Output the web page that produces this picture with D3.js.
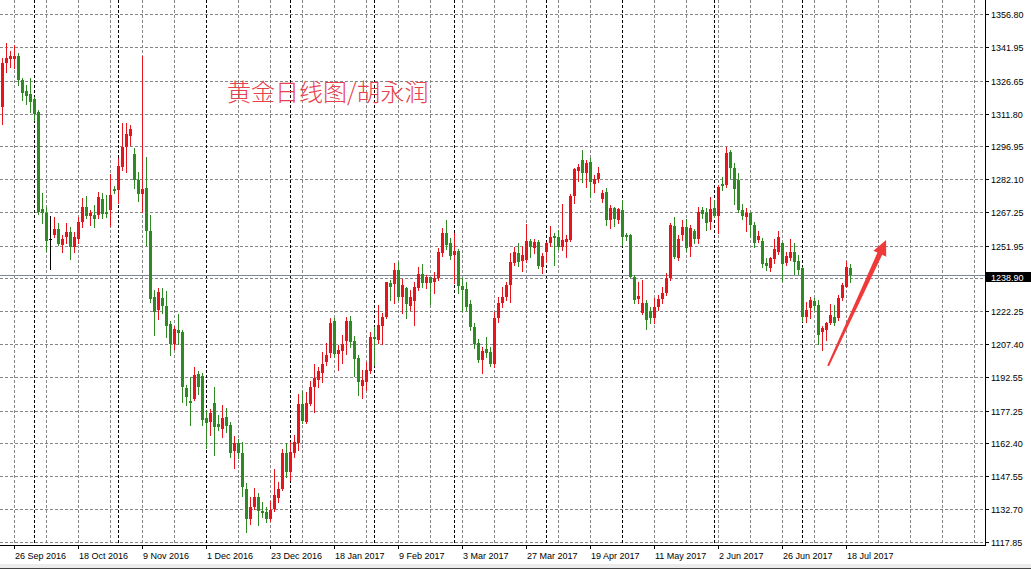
<!DOCTYPE html>
<html><head><meta charset="utf-8">
<script src="https://cdn.jsdelivr.net/npm/d3@7"></script>
<style>
html,body{margin:0;padding:0;background:#fff;overflow:hidden;}
svg{display:block;}
</style></head><body>
<svg id="chart" width="1031" height="569"></svg>
<script>
// ---------- data ----------
const startDate = "2016-09-21";
const holidays = ["2016-12-26", "2017-01-02", "2017-04-14"];
const opens = [1314.6,1334.6,1336.4,1336.4,1337.9,1327.0,1322.0,1320.5,1318.3,1312.7,1268.5,1266.6,1254.9,1256.9,1259.4,1252.3,1256.0,1258.3,1251.2,1254.9,1262.8,1269.4,1265.6,1265.9,1265.9,1273.0,1267.4,1268.1,1277.6,1277.2,1287.7,1296.8,1301.7,1293.5,1281.7,1275.4,1278.0,1258.8,1228.9,1222.8,1228.1,1224.7,1216.5,1207.4,1213.8,1213.0,1187.4,1181.8,1182.4,1193.9,1193.0,1173.8,1172.3,1180.6,1171.2,1168.8,1174.5,1170.8,1159.1,1162.7,1157.9,1141.6,1128.1,1133.5,1138.3,1131.9,1131.5,1128.1,1132.6,1137.6,1141.6,1158.2,1149.6,1157.9,1162.7,1180.3,1172.3,1180.3,1187.8,1191.1,1194.3,1199.4,1203.2,1218.0,1202.9,1204.4,1208.9,1218.0,1208.9,1201.0,1188.4,1190.4,1195.4,1210.5,1209.3,1215.6,1219.5,1235.2,1234.6,1241.0,1228.6,1232.7,1224.7,1227.1,1232.7,1239.2,1234.9,1237.7,1235.7,1237.2,1248.5,1257.6,1253.1,1247.8,1249.7,1233.7,1232.2,1225.6,1215.3,1208.0,1200.2,1205.0,1203.9,1198.4,1219.1,1225.9,1228.9,1234.2,1244.3,1248.5,1245.2,1245.5,1254.2,1250.8,1253.8,1242.5,1249.3,1253.3,1256.4,1256.0,1251.5,1253.8,1254.5,1274.5,1285.9,1290.8,1284.8,1290.0,1279.9,1282.0,1273.0,1276.4,1263.6,1268.9,1263.6,1268.1,1256.8,1256.8,1237.9,1227.7,1221.3,1226.2,1222.5,1219.1,1224.3,1227.7,1230.4,1237.2,1260.9,1246.3,1256.8,1260.3,1251.5,1258.8,1254.9,1268.1,1267.4,1262.8,1268.9,1265.4,1279.9,1279.5,1294.5,1287.0,1281.7,1268.1,1264.8,1266.6,1261.3,1254.5,1254.2,1244.3,1241.7,1245.8,1249.3,1253.3,1244.0,1246.3,1249.3,1245.2,1241.7,1219.8,1223.6,1226.9,1225.1,1213.0,1213.8,1217.1,1219.8,1219.1,1228.1,1233.4,1242.0];
const highs = [1336.8,1343.6,1340.3,1342.9,1339.4,1327.8,1324.7,1327.8,1319.4,1313.4,1275.7,1269.6,1265.4,1264.8,1262.1,1256.8,1262.1,1260.6,1258.3,1264.8,1273.4,1274.5,1268.1,1270.4,1276.4,1276.0,1274.9,1284.4,1279.0,1291.6,1307.7,1307.7,1306.6,1296.1,1285.5,1337.9,1292.0,1265.9,1231.9,1232.8,1232.7,1231.6,1218.0,1215.6,1221.0,1213.8,1188.9,1192.6,1197.2,1195.4,1194.2,1177.6,1177.9,1188.1,1175.3,1179.8,1178.3,1172.3,1165.8,1164.3,1163.2,1144.4,1138.3,1142.1,1139.8,1136.0,1133.8,1136.5,1150.7,1145.1,1159.8,1162.7,1163.2,1166.2,1184.8,1186.3,1185.8,1190.8,1198.4,1196.9,1204.0,1208.0,1219.1,1219.1,1207.0,1211.5,1219.8,1220.1,1211.1,1202.5,1195.7,1199.4,1213.0,1215.3,1225.1,1221.6,1235.7,1236.4,1244.3,1244.7,1236.8,1233.4,1231.9,1235.7,1242.5,1243.7,1238.7,1237.9,1240.2,1250.8,1259.8,1263.6,1255.3,1257.6,1250.3,1237.2,1235.5,1227.4,1216.8,1209.6,1206.2,1210.8,1206.2,1222.1,1228.9,1233.4,1235.7,1248.5,1251.5,1253.1,1251.8,1261.8,1254.9,1254.9,1254.5,1248.5,1253.8,1260.9,1257.6,1259.1,1270.9,1256.8,1275.4,1287.0,1289.0,1295.3,1290.8,1291.6,1284.0,1287.5,1277.2,1278.0,1270.4,1269.6,1268.9,1272.7,1257.6,1257.1,1238.7,1235.7,1236.4,1227.4,1224.3,1228.1,1229.6,1233.1,1239.5,1262.1,1264.8,1256.8,1263.6,1263.9,1261.3,1259.4,1269.6,1269.6,1268.9,1273.9,1272.7,1279.5,1283.2,1296.5,1295.3,1289.3,1284.8,1270.9,1268.9,1267.4,1262.8,1258.8,1255.3,1246.3,1247.0,1254.9,1258.8,1253.8,1249.3,1254.9,1253.1,1247.8,1242.5,1226.6,1228.6,1228.1,1227.4,1215.6,1217.5,1225.6,1225.1,1229.6,1234.9,1245.2,1243.7];
const lows = [1307.1,1330.8,1332.8,1332.3,1324.7,1318.0,1316.1,1312.7,1308.9,1266.3,1262.1,1249.7,1241.3,1255.8,1252.3,1249.3,1253.1,1245.8,1249.3,1253.1,1260.6,1264.4,1261.3,1260.6,1264.4,1264.4,1265.1,1260.9,1275.8,1271.2,1286.3,1285.5,1297.6,1278.0,1272.3,1267.4,1252.3,1226.5,1211.5,1218.8,1221.3,1210.8,1202.5,1205.0,1207.4,1181.3,1179.8,1170.8,1182.1,1184.8,1170.8,1160.2,1166.2,1157.2,1168.5,1165.5,1167.7,1156.1,1151.2,1155.7,1138.6,1122.4,1125.9,1132.6,1125.5,1129.0,1127.0,1127.4,1131.9,1136.0,1141.3,1147.3,1145.9,1156.1,1159.4,1171.8,1171.5,1179.8,1176.8,1188.1,1190.0,1197.9,1201.7,1201.7,1195.7,1198.7,1202.9,1206.2,1193.0,1184.3,1182.9,1186.6,1194.2,1197.9,1207.8,1207.4,1219.1,1227.4,1225.9,1227.4,1221.3,1219.1,1222.8,1216.1,1231.9,1233.1,1232.7,1225.6,1230.7,1236.4,1247.3,1250.3,1245.8,1235.0,1230.7,1222.5,1222.8,1213.8,1205.5,1199.4,1194.2,1201.7,1197.5,1197.2,1217.5,1224.0,1227.4,1226.6,1243.2,1242.8,1240.6,1244.7,1246.7,1248.8,1241.7,1239.5,1244.7,1251.8,1243.2,1250.3,1250.0,1246.7,1254.2,1271.4,1281.4,1280.9,1278.7,1273.9,1276.4,1280.9,1271.9,1261.3,1259.8,1260.9,1262.1,1252.3,1254.5,1237.7,1225.9,1225.9,1221.0,1214.1,1216.8,1216.8,1223.0,1225.9,1229.6,1236.4,1246.3,1245.5,1254.5,1249.7,1247.3,1253.1,1253.1,1264.4,1259.1,1259.4,1264.8,1257.9,1277.2,1278.7,1282.5,1270.9,1267.0,1263.9,1258.8,1256.0,1251.5,1253.8,1242.5,1241.0,1240.6,1244.0,1248.2,1236.1,1243.2,1245.5,1239.2,1239.2,1218.0,1217.5,1219.1,1222.8,1207.4,1204.7,1209.3,1216.5,1216.1,1218.3,1227.4,1233.1,1235.7];
const closes = [1334.6,1336.8,1337.9,1337.9,1327.0,1321.3,1319.9,1317.2,1311.6,1267.4,1266.6,1254.2,1254.9,1259.4,1252.7,1254.9,1258.3,1251.2,1256.0,1262.8,1269.4,1265.4,1266.9,1263.9,1274.2,1266.3,1266.3,1274.9,1276.7,1288.1,1296.8,1302.6,1304.7,1281.7,1275.4,1277.5,1258.8,1227.7,1222.1,1231.1,1224.7,1215.6,1207.4,1214.1,1212.3,1187.8,1183.6,1180.9,1193.4,1188.1,1173.0,1171.5,1176.1,1170.0,1170.0,1173.8,1170.3,1158.2,1162.5,1157.9,1142.8,1128.1,1133.5,1138.0,1131.9,1130.8,1128.1,1132.3,1139.1,1141.6,1158.2,1149.6,1158.7,1163.2,1180.3,1172.7,1180.9,1187.8,1191.9,1195.4,1198.4,1202.5,1216.8,1202.9,1204.7,1207.4,1218.0,1208.5,1200.5,1190.4,1191.1,1195.7,1210.8,1209.6,1216.1,1219.5,1235.7,1233.4,1241.0,1228.9,1234.2,1225.6,1228.6,1233.1,1239.2,1235.2,1237.7,1235.2,1237.2,1249.3,1257.6,1252.3,1247.3,1249.7,1233.7,1231.9,1224.3,1215.3,1207.4,1200.2,1204.4,1203.5,1198.4,1219.1,1226.2,1228.9,1234.2,1244.7,1249.3,1244.7,1247.8,1254.2,1251.2,1253.8,1242.8,1247.3,1253.1,1255.8,1255.3,1251.5,1254.5,1254.9,1274.5,1286.6,1287.7,1284.8,1289.6,1280.9,1282.0,1284.8,1275.7,1263.6,1268.9,1263.9,1268.5,1256.0,1255.8,1237.9,1227.4,1229.2,1226.2,1218.3,1219.1,1224.3,1227.7,1230.7,1237.2,1261.3,1247.0,1254.9,1260.3,1250.8,1259.8,1254.9,1267.4,1266.3,1262.4,1268.5,1265.4,1278.7,1279.0,1293.8,1287.0,1277.5,1268.1,1265.4,1266.9,1261.3,1253.3,1256.4,1243.7,1242.8,1246.3,1250.3,1256.0,1243.7,1247.3,1249.3,1244.7,1241.0,1219.8,1222.8,1227.4,1224.7,1211.5,1214.6,1217.1,1220.6,1216.8,1228.1,1234.2,1242.2,1238.9];
const priceTicks = [1356.80,1341.95,1326.65,1311.80,1296.95,1282.10,1267.25,1251.95,1237.10,1222.25,1207.40,1192.55,1177.25,1162.40,1147.55,1132.70,1117.85];
const dateTicks = ["2016-09-26","2016-10-18","2016-11-09","2016-12-01","2016-12-23","2017-01-18","2017-02-09","2017-03-03","2017-03-27","2017-04-19","2017-05-11","2017-06-02","2017-06-26","2017-07-18"];
const lastPrice = 1238.90;
const titleText = "黄金日线图/胡永润";
// annotation arrow, in data coordinates [bar index, price]
const arrowFrom = [206.4, 1197.5];
const arrowTo = [220.9, 1254.5];

// ---------- build dates ----------
const parse = d3.utcParse("%Y-%m-%d"), key = d3.utcFormat("%Y-%m-%d");
const fmtTick = d3.utcFormat("%-d %b %Y");
const days = [];
let dd = parse(startDate);
while (days.length < opens.length) {
  const wd = dd.getUTCDay(), k = key(dd);
  if (wd !== 0 && wd !== 6 && !holidays.includes(k)) days.push(k);
  dd = d3.utcDay.offset(dd, 1);
}
const bars = days.map((d, i) => ({date: d, i, o: opens[i], h: highs[i], l: lows[i], c: closes[i]}));

// ---------- layout ----------
const W = 1031, H = 569;
const plotRight = 985, plotBottom = 545;
const barStep = 4;
const x = d3.scaleLinear().domain([0, 1]).range([2.5, 2.5 + barStep]);
const y = d3.scaleLinear().domain([1117.85, 1356.80]).range([541.8, 14.2]);
const idx = d => days.indexOf(d);

const svg = d3.select("#chart");
svg.append("rect").attr("width", W).attr("height", H).attr("fill", "#fff");

const gridColor = "#868686";
const dash = "3,2";
const grid = svg.append("g").attr("shape-rendering", "crispEdges");

// horizontal grid
grid.selectAll("line.h").data(priceTicks).join("line")
  .attr("x1", 0).attr("x2", plotRight)
  .attr("y1", d => Math.round(y(d)) + 0.5).attr("y2", d => Math.round(y(d)) + 0.5)
  .attr("stroke", gridColor).attr("stroke-dasharray", dash);

// vertical grid every 8 bars from first date tick
const vIdx = [];
for (let i = idx(dateTicks[0]); x(i) < plotRight; i += 8) vIdx.push(i);
grid.selectAll("line.v").data(vIdx).join("line")
  .attr("x1", d => Math.floor(x(d)) + 0.5).attr("x2", d => Math.floor(x(d)) + 0.5)
  .attr("y1", 0).attr("y2", plotBottom)
  .attr("stroke", gridColor).attr("stroke-dasharray", dash);

// period separators (first trading day of each month)
const seps = bars.filter((b, i) => i > 0 && b.date.slice(0, 7) !== bars[i - 1].date.slice(0, 7));
grid.selectAll("line.s").data(seps).join("line")
  .attr("x1", d => Math.floor(x(d.i)) + 0.5).attr("x2", d => Math.floor(x(d.i)) + 0.5)
  .attr("y1", 0).attr("y2", plotBottom)
  .attr("stroke", "#000").attr("stroke-dasharray", dash);

// price line
svg.append("line").attr("shape-rendering", "crispEdges")
  .attr("x1", 0).attr("x2", plotRight)
  .attr("y1", Math.round(y(lastPrice)) + 0.5).attr("y2", Math.round(y(lastPrice)) + 0.5)
  .attr("stroke", "#7d8a96");

// candles
const upColor = "#e8141c", downColor = "#2f8a24";
const colorOf = b => b.c > b.o ? upColor : (b.c < b.o ? downColor : "#000");
const cg = svg.append("g").attr("shape-rendering", "crispEdges");
const cand = cg.selectAll("g").data(bars).join("g");
cand.append("line")
  .attr("x1", d => Math.floor(x(d.i)) + 0.5).attr("x2", d => Math.floor(x(d.i)) + 0.5)
  .attr("y1", d => Math.round(y(d.h))).attr("y2", d => Math.round(y(d.l)) + 1)
  .attr("stroke", colorOf);
cand.append("rect")
  .attr("x", d => Math.floor(x(d.i)) - 1)
  .attr("width", 3)
  .attr("y", d => Math.round(y(Math.max(d.o, d.c))))
  .attr("height", d => Math.max(1, Math.round(y(Math.min(d.o, d.c))) - Math.round(y(Math.max(d.o, d.c)))))
  .attr("fill", colorOf);

// axes frame
const ax = svg.append("g").attr("shape-rendering", "crispEdges");
ax.append("line").attr("x1", plotRight + 0.5).attr("x2", plotRight + 0.5).attr("y1", 0).attr("y2", plotBottom + 1).attr("stroke", "#000");
ax.append("line").attr("x1", 0).attr("x2", plotRight + 1).attr("y1", plotBottom + 0.5).attr("y2", plotBottom + 0.5).attr("stroke", "#000");

const fontAxis = "'Liberation Sans', Arial, sans-serif";
// y labels
ax.selectAll("line.yt").data(priceTicks).join("line")
  .attr("x1", plotRight).attr("x2", plotRight + 4)
  .attr("y1", d => Math.round(y(d)) + 0.5).attr("y2", d => Math.round(y(d)) + 0.5)
  .attr("stroke", "#000");
svg.selectAll("text.yl").data(priceTicks).join("text")
  .attr("x", plotRight + 6).attr("y", d => Math.round(y(d)) + 3.5)
  .attr("font-family", fontAxis).attr("font-size", 9).attr("fill", "#000")
  .text(d => d.toFixed(2));

// last price box
const ly = Math.round(y(lastPrice));
svg.append("rect").attr("x", plotRight + 1).attr("y", ly - 3).attr("width", W - plotRight - 1).attr("height", 10).attr("fill", "#000");
svg.append("text").attr("x", plotRight + 6).attr("y", ly + 5.5)
  .attr("font-family", fontAxis).attr("font-size", 9).attr("fill", "#fff")
  .text(lastPrice.toFixed(2));

// x labels
ax.selectAll("line.xt").data(dateTicks).join("line")
  .attr("x1", d => Math.floor(x(idx(d))) + 0.5).attr("x2", d => Math.floor(x(idx(d))) + 0.5)
  .attr("y1", plotBottom).attr("y2", plotBottom + 4)
  .attr("stroke", "#000");
svg.selectAll("text.xl").data(dateTicks).join("text")
  .attr("x", d => Math.floor(x(idx(d))) + 1).attr("y", 558.5)
  .attr("font-family", fontAxis).attr("font-size", 9).attr("fill", "#000")
  .text(d => fmtTick(parse(d)));

// bottom window strip
svg.append("rect").attr("x", 0).attr("y", 564).attr("width", W).attr("height", 5).attr("fill", "#ececec");
svg.append("line").attr("x1", 0).attr("x2", W).attr("y1", 568.5).attr("y2", 568.5).attr("stroke", "#444");

// title
svg.append("text").attr("x", 227).attr("y", 101)
  .attr("font-family", "'Noto Sans CJK SC', sans-serif").attr("font-size", 24)
  .attr("font-weight", 300)
  .attr("fill", "#e8404c").text(titleText);

// arrow
const p0 = [x(arrowFrom[0]), y(arrowFrom[1])], p1 = [x(arrowTo[0]), y(arrowTo[1])];
const dx = p1[0] - p0[0], dy = p1[1] - p0[1], len = Math.hypot(dx, dy);
const u = [dx / len, dy / len], n = [-u[1], u[0]];
const hb = [p1[0] - u[0] * 15, p1[1] - u[1] * 15];
const pt = (p, s, w) => [p[0] + n[0] * w * s, p[1] + n[1] * w * s];
const shaft = [pt(p0, 1, 1), pt(hb, 1, 2.6), pt(hb, 1, 7), p1, pt(hb, -1, 7), pt(hb, -1, 2.6), pt(p0, -1, 1)];
svg.append("path").attr("d", "M" + shaft.map(p => p.join(",")).join("L") + "Z").attr("fill", "#f03a3a");
</script>
</body></html>
